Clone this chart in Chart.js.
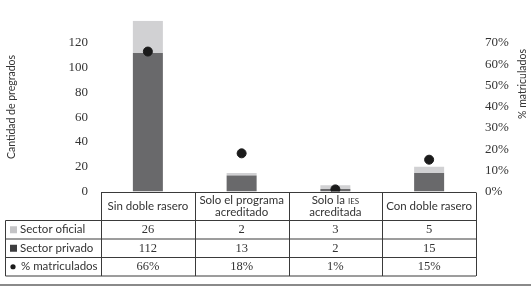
<!DOCTYPE html>
<html>
<head>
<meta charset="utf-8">
<script src="https://cdn.jsdelivr.net/npm/chart.js@4.4.0/dist/chart.umd.min.js"></script>
<style>
  html, body { margin: 0; padding: 0; background: #fff; }
  #wrap { width: 531px; height: 288px; position: relative; }
</style>
</head>
<body>
<div id="wrap"><canvas id="chart"></canvas></div>
<script>
const categories = [['Sin doble rasero'], ['Solo el programa', 'acreditado'], ['Solo la IES', 'acreditada'], ['Con doble rasero']];
const oficial = [26, 2, 3, 5];
const privado = [112, 13, 2, 15];
const matriculados = [66, 18, 1, 15];
const leftTicks = [0, 20, 40, 60, 80, 100, 120];
const rightTicks = [0, 10, 20, 30, 40, 50, 60, 70];

const COL_OFICIAL = '#d1d1d3';
const COL_PRIVADO = '#69696b';
const COL_DOT = '#1b1b1b';
const TEXT = '#333';
const SANS = 'Lato, "Open Sans", sans-serif';
const SERIF = '"Liberation Serif", serif';
const FS = 11.5;

// table + axis titles drawn below/around the plot
const tablePlugin = {
    id: 'tablePlugin',
    afterDraw(chart) {
        const ctx = chart.ctx;
        const x = chart.scales.x;
        const area = chart.chartArea;
        const labelLeft = 5.5;
        const top = Math.round(area.bottom) + 0.5;
        const rows = [top, top + 28, top + 46.5, top + 65, top + 83.5];
        const half = (x.getPixelForValue(1) - x.getPixelForValue(0)) / 2;
        const edges = categories.map((c, i) => x.getPixelForValue(i) - half);
        edges.push(x.getPixelForValue(categories.length - 1) + half);

        ctx.save();
        ctx.strokeStyle = '#3a3a3a';
        ctx.lineWidth = 1;
        ctx.beginPath();
        ctx.moveTo(edges[0], rows[0]);
        ctx.lineTo(edges[edges.length - 1], rows[0]);
        for (let r = 1; r < rows.length; r++) {
            ctx.moveTo(labelLeft, rows[r]);
            ctx.lineTo(edges[edges.length - 1], rows[r]);
        }
        edges.forEach(e => {
            ctx.moveTo(Math.round(e) + 0.5, rows[0]);
            ctx.lineTo(Math.round(e) + 0.5, rows[4]);
        });
        ctx.moveTo(labelLeft, rows[1]);
        ctx.lineTo(labelLeft, rows[4]);
        ctx.stroke();

        // header text
        ctx.fillStyle = TEXT;
        ctx.textAlign = 'center';
        ctx.textBaseline = 'middle';
        categories.forEach((lines, i) => {
            const cx = x.getPixelForValue(i);
            const cy = (rows[0] + rows[1]) / 2;
            lines.forEach((ln, j) => {
                const y = cy + (j - (lines.length - 1) / 2) * 12.5;
                if (ln.includes('IES')) {
                    const [pre] = ln.split('IES');
                    ctx.font = FS + 'px ' + SANS;
                    const w1 = ctx.measureText(pre).width;
                    ctx.font = '8px ' + SANS;
                    const w2 = ctx.measureText('IES').width;
                    const sx = cx - (w1 + w2) / 2;
                    ctx.textAlign = 'left';
                    ctx.font = FS + 'px ' + SANS;
                    ctx.fillText(pre, sx, y);
                    ctx.font = '8px ' + SANS;
                    ctx.fillText('IES', sx + w1, y + 1);
                    ctx.textAlign = 'center';
                } else {
                    ctx.font = FS + 'px ' + SANS;
                    ctx.fillText(ln, cx, y);
                }
            });
        });

        // data rows
        const rowData = [
            oficial.map(String),
            privado.map(String),
            matriculados.map(v => v + '%')
        ];
        ctx.font = '12.5px ' + SERIF;
        rowData.forEach((vals, r) => {
            const cy = (rows[r + 1] + rows[r + 2]) / 2;
            vals.forEach((v, i) => ctx.fillText(v, x.getPixelForValue(i), cy));
        });

        // row labels with markers
        const labels = ['Sector oficial', 'Sector privado', '% matriculados'];
        ctx.textAlign = 'left';
        ctx.font = FS + 'px ' + SANS;
        labels.forEach((lab, r) => {
            const cy = (rows[r + 1] + rows[r + 2]) / 2;
            if (r < 2) {
                ctx.fillStyle = r === 0 ? '#c4c4c6' : '#3d3d3f';
                ctx.fillRect(10, cy - 3.5, 7, 7);
                ctx.fillStyle = TEXT;
                ctx.fillText(lab, 20, cy);
            } else {
                ctx.fillStyle = COL_DOT;
                ctx.beginPath();
                ctx.arc(13, cy, 2.6, 0, Math.PI * 2);
                ctx.fill();
                ctx.fillStyle = TEXT;
                ctx.fillText(lab, 21, cy);
            }
        });

        // bottom rule
        ctx.strokeStyle = '#8a8a8a';
        ctx.lineWidth = 2;
        ctx.beginPath();
        ctx.moveTo(0, 285);
        ctx.lineTo(531, 285);
        ctx.stroke();

        // axis titles, reading bottom to top
        ctx.fillStyle = TEXT;
        ctx.font = '10.5px ' + SANS;
        ctx.textAlign = 'center';
        ctx.save();
        ctx.translate(12, 107);
        ctx.rotate(-Math.PI / 2);
        ctx.fillText('Cantidad de pregrados', 0, 0);
        ctx.restore();
        ctx.save();
        ctx.translate(523, 84);
        ctx.rotate(-Math.PI / 2);
        ctx.fillText('% matriculados', 0, 0);
        ctx.restore();
        ctx.restore();
    }
};

const ctx = document.getElementById('chart').getContext('2d');
new Chart(ctx, {
    type: 'bar',
    data: {
        labels: categories.map(c => c.join(' ')),
        datasets: [
            {
                type: 'line',
                label: '% matriculados',
                data: matriculados,
                yAxisID: 'y2',
                showLine: false,
                pointRadius: 4.5,
                pointBackgroundColor: COL_DOT,
                pointBorderColor: COL_DOT,
                order: 0
            },
            {
                label: 'Sector privado',
                data: privado,
                backgroundColor: COL_PRIVADO,
                yAxisID: 'y',
                stack: 's',
                order: 1,
                barPercentage: 0.32,
                categoryPercentage: 1
            },
            {
                label: 'Sector oficial',
                data: oficial,
                backgroundColor: COL_OFICIAL,
                yAxisID: 'y',
                stack: 's',
                order: 1,
                barPercentage: 0.32,
                categoryPercentage: 1
            }
        ]
    },
    options: {
        responsive: true,
        maintainAspectRatio: false,
        animation: false,
        layout: { padding: { top: 1, bottom: 96.5, left: 0, right: 0 } },
        plugins: { legend: { display: false }, tooltip: { enabled: false } },
        scales: {
            x: { display: false, stacked: true, offset: true },
            y: {
                position: 'left',
                stacked: true,
                min: 0,
                max: 138,
                afterBuildTicks: axis => { axis.ticks = leftTicks.map(v => ({ value: v })); },
                afterFit: scale => { scale.width = 101; },
                grid: { display: false, drawTicks: false },
                border: { display: false },
                ticks: { padding: 13, color: TEXT, font: { family: SERIF, size: 13 } }
            },
            y2: {
                position: 'right',
                min: 0,
                max: 138 * 70 / 120,
                afterBuildTicks: axis => { axis.ticks = rightTicks.map(v => ({ value: v })); },
                afterFit: scale => { scale.width = 55; },
                grid: { display: false, drawTicks: false },
                border: { display: false },
                ticks: { padding: 9, color: TEXT, font: { family: SERIF, size: 13 }, callback: v => v + '%' }
            }
        }
    },
    plugins: [tablePlugin]
});
</script>
</body>
</html>
